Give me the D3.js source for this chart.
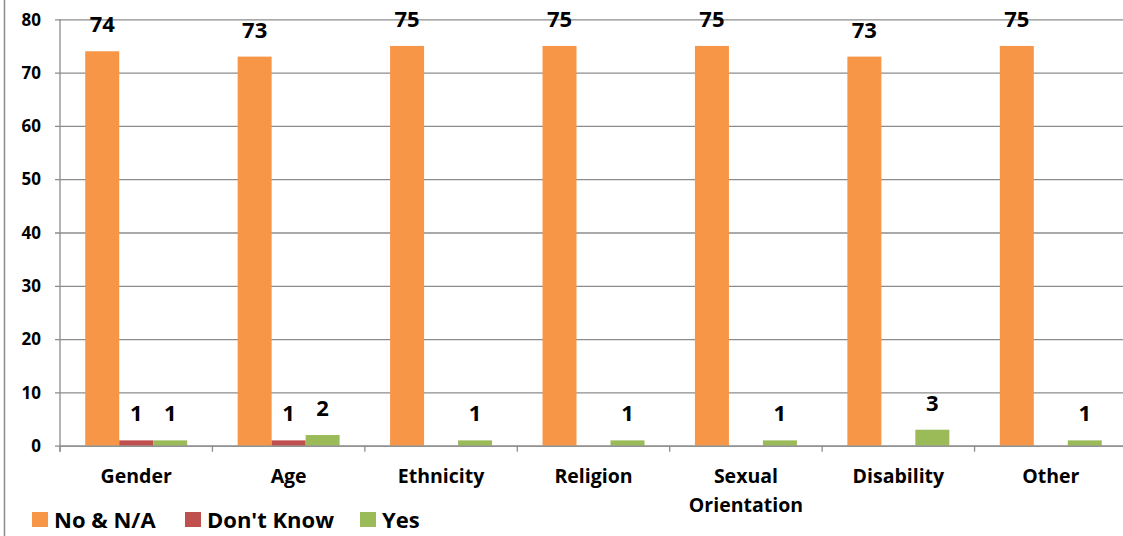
<!DOCTYPE html>
<html>
<head>
<meta charset="utf-8">
<script src="https://cdn.jsdelivr.net/npm/d3@7"></script>
<style>
  html, body { margin: 0; padding: 0; background: #fff; }
  svg { display: block; font-family: "Open Sans", "DejaVu Sans", sans-serif; font-weight: bold; }
</style>
</head>
<body>
<svg id="chart" width="1123" height="536"></svg>
<script>
// Responses per category
const categories = ["Gender", "Age", "Ethnicity", "Religion", "Sexual Orientation", "Disability", "Other"];
const seriesNames = ["No & N/A", "Don't Know", "Yes"];
const noNA = [74, 73, 75, 75, 75, 73, 75];
const dontKnow = [1, 1, 0, 0, 0, 0, 0];
const yes = [1, 2, 1, 1, 1, 3, 1];
const colors = ["#F79646", "#C0504D", "#9BBB59"];
const yTicks = [0, 10, 20, 30, 40, 50, 60, 70, 80];

const seriesValues = [noNA, dontKnow, yes];
const rows = categories.map((c, i) => ({
  category: c,
  values: seriesNames.map((s, k) => ({ series: s, value: seriesValues[k][i], color: colors[k] }))
}));

const svg = d3.select("#chart");
const plotLeft = 60, plotRight = 1127, plotTop = 19.3, plotBottom = 445.7;
const axisGrey = "#8c8c8c";

const x0 = d3.scaleBand().domain(categories).range([plotLeft, plotRight]).paddingInner(0).paddingOuter(0);
const x1 = d3.scaleBand().domain(seriesNames).range([0, x0.bandwidth()]).paddingInner(0).paddingOuter(0.742);
const y = d3.scaleLinear().domain([0, 80]).range([plotBottom, plotTop]);

// outer frame line on the left
svg.append("line").attr("x1", 4.5).attr("x2", 4.5).attr("y1", 0).attr("y2", 536)
  .attr("stroke", axisGrey).attr("stroke-width", 1.5);

// horizontal gridlines with y axis
const yAxis = d3.axisLeft(y).tickValues(yTicks).tickSize(-(1123 - plotLeft)).tickPadding(19);
const gy = svg.append("g").attr("transform", `translate(${plotLeft},0)`).call(yAxis);
gy.select(".domain").remove();
gy.selectAll(".tick line").attr("stroke", axisGrey).attr("stroke-width", 1.3).attr("x1", -5);
gy.selectAll(".tick text").attr("font-size", 17).attr("font-family", "'Open Sans', sans-serif")
  .attr("font-weight", "bold").attr("fill", "#000").attr("dy", "0.34em");

// vertical axis line
svg.append("line").attr("x1", plotLeft).attr("x2", plotLeft).attr("y1", plotTop).attr("y2", plotBottom + 6)
  .attr("stroke", axisGrey).attr("stroke-width", 1.3);

// bars
const groups = svg.append("g").selectAll("g").data(rows).join("g")
  .attr("transform", d => `translate(${x0(d.category)},0)`);

groups.selectAll("rect").data(d => d.values).join("rect")
  .attr("x", d => x1(d.series))
  .attr("width", x1.bandwidth())
  .attr("y", d => y(d.value))
  .attr("height", d => y(0) - y(d.value))
  .attr("fill", d => d.color);

// value labels (zeros are not labelled)
groups.selectAll("text").data(d => d.values.filter(v => v.value > 0)).join("text")
  .attr("x", d => x1(d.series) + x1.bandwidth() / 2)
  .attr("y", d => y(d.value) - 19)
  .attr("text-anchor", "middle")
  .attr("font-size", 22)
  .attr("fill", "#000")
  .text(d => d.value);

// x axis
const xAxis = d3.axisBottom(x0).tickSize(0).tickFormat("");
const gx = svg.append("g").attr("transform", `translate(0,${plotBottom})`).call(xAxis);
gx.select(".domain").attr("stroke", axisGrey).attr("stroke-width", 1.3);
// tick marks at category boundaries
const boundaries = categories.map(c => x0(c)).concat([x0(categories[categories.length - 1]) + x0.bandwidth()]);
svg.append("g").selectAll("line").data(boundaries).join("line")
  .attr("x1", d => d).attr("x2", d => d).attr("y1", plotBottom).attr("y2", plotBottom + 6)
  .attr("stroke", axisGrey).attr("stroke-width", 1.3);

// category labels, wrapped onto lines
const catLabels = svg.append("g").selectAll("text").data(categories).join("text")
  .attr("x", d => x0(d) + x0.bandwidth() / 2)
  .attr("y", 483)
  .attr("text-anchor", "middle")
  .attr("font-size", 19.5)
  .attr("fill", "#000");
catLabels.each(function(d) {
  const words = d.split(" ");
  const t = d3.select(this);
  words.forEach((w, i) => {
    t.append("tspan").attr("x", x0(d) + x0.bandwidth() / 2).attr("dy", i === 0 ? 0 : 29).text(w);
  });
});

// legend
const legendX = [32, 185, 360];
const legend = svg.append("g").selectAll("g").data(seriesNames).join("g")
  .attr("transform", (d, i) => `translate(${legendX[i]},512)`);
legend.append("rect").attr("width", 16).attr("height", 15).attr("fill", (d, i) => colors[i]);
legend.append("text").attr("x", 22).attr("y", 15.5).attr("font-size", 22).attr("fill", "#000").text(d => d);
</script>
</body>
</html>
